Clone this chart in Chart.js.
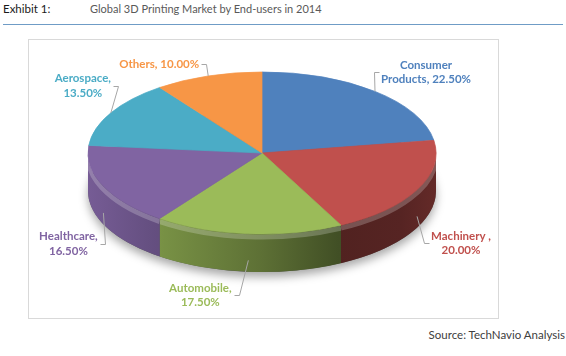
<!DOCTYPE html>
<html><head><meta charset="utf-8">
<script src="https://cdn.jsdelivr.net/npm/chart.js@4"></script>
<style>
html,body{margin:0;padding:0;background:#fff;}
#wrap{position:relative;width:566px;height:356px;overflow:hidden;font-family:Lato,"Liberation Sans",sans-serif;}
.t{position:absolute;white-space:nowrap;line-height:1;}
#ex{left:3px;top:3px;font-size:11.5px;color:#1a1a1a;}
#title{left:90px;top:3px;font-size:11px;color:#595959;}
#rule{position:absolute;left:3px;top:24px;width:560px;height:1px;background:#6f9cc6;}
#box{position:absolute;left:28px;top:39px;width:469px;height:278px;border:1px solid #d9d9d9;}
#src{right:1px;top:329px;font-size:11.5px;color:#404040;}
canvas{position:absolute;left:0;top:0;}
</style></head>
<body><div id="wrap">
<div class="t" id="ex">Exhibit 1:</div>
<div class="t" id="title">Global 3D Printing Market by End-users in 2014</div>
<div id="rule"></div>
<div id="box"></div>
<div class="t" id="src">Source: TechNavio Analysis</div>
<canvas id="c" width="566" height="356"></canvas>
</div>
<script>
const categories = ['Consumer Products', 'Machinery ', 'Automobile', 'Healthcare', 'Aerospace', 'Others'];
const shares = [22.5, 20.0, 17.5, 16.5, 13.5, 10.0];
const sliceColors = ['#4F81BD', '#C0504D', '#9BBB59', '#8064A2', '#4BACC6', '#F79646'];

// view / styling settings
const pieView = { cy: 153, ry: 81, depth: 38 };
const labelOffsets = [[51,-19],[44,27],[-48,35],[-35,31],[-28,-27],[-49,-12]];
const wallStops = [[0,0.92],[0.17,0.8],[0.5,0.6],[0.72,0.42],[0.9,0.45],[1,0.52]];

function shade(hex, f) {
  const n = parseInt(hex.slice(1), 16);
  const r = Math.round(((n >> 16) & 255) * f), g = Math.round(((n >> 8) & 255) * f), b = Math.round((n & 255) * f);
  return `rgb(${r},${g},${b})`;
}

function labelLines(cat, val) {
  const v = val.toFixed(2) + '%';
  const full = cat + ', ' + v;
  if (full.length <= 15) return [full];
  const words = cat.trim().split(' ');
  if (words.length > 1) return [words[0], words.slice(1).join(' ') + ', ' + v];
  return [cat + ',', v];
}

const pie3d = {
  id: 'pie3d',
  beforeDatasetsDraw(chart) {
    const ctx = chart.ctx;
    const meta = chart.getDatasetMeta(0);
    const first = meta.data[0];
    const R = first.outerRadius, X = first.x, Y = first.y;
    const { cy, ry, depth } = pieView;
    const k = ry / R;
    ctx.save();
    ctx.shadowColor = 'rgba(0,0,0,0.35)'; ctx.shadowBlur = 10; ctx.shadowOffsetY = 5;
    ctx.fillStyle = '#555';
    ctx.beginPath(); ctx.ellipse(X, cy + depth, R, ry, 0, 0, Math.PI * 2); ctx.fill();
    ctx.restore();
    meta.data.forEach((arc, i) => {
      const s = arc.startAngle, e = arc.endAngle;
      [[0, Math.PI], [2 * Math.PI, 3 * Math.PI], [-2 * Math.PI, -Math.PI]].forEach(([l, h]) => {
        const lo = Math.max(s, l), hi = Math.min(e, h);
        if (hi - lo < 1e-4) return;
        const g = ctx.createLinearGradient(X - R, 0, X + R, 0);
        wallStops.forEach(([p, f]) => g.addColorStop(p, shade(sliceColors[i], f)));
        ctx.save();
        ctx.beginPath();
        ctx.ellipse(X, cy, R, ry, 0, lo, hi, false);
        ctx.ellipse(X, cy + depth, R, ry, 0, hi, lo, true);
        ctx.closePath();
        ctx.fillStyle = g; ctx.fill();
        ctx.clip();
        ctx.beginPath(); ctx.ellipse(X, cy + 3, R, ry, 0, lo, hi, false);
        ctx.lineWidth = 5; ctx.strokeStyle = 'rgba(255,255,255,0.22)'; ctx.stroke();
        ctx.restore();
      });
    });
    ctx.save();
    ctx.translate(0, cy); ctx.scale(1, k); ctx.translate(0, -Y);
  },
  afterDatasetsDraw(chart) {
    const ctx = chart.ctx;
    ctx.restore();
    const meta = chart.getDatasetMeta(0);
    const { cy, ry, depth } = pieView;
    ctx.save();
    ctx.font = 'bold 11.5px Lato, "Liberation Sans", sans-serif';
    ctx.textAlign = 'center'; ctx.textBaseline = 'middle';
    meta.data.forEach((arc, i) => {
      const R = arc.outerRadius, X = arc.x;
      const mid = (arc.startAngle + arc.endAngle) / 2;
      const sn = Math.sin(mid), cs = Math.cos(mid);
      const ax = X + R * cs, ay = cy + ry * sn + (sn > 0 ? depth * 0.7 : 0);
      const lx = ax + labelOffsets[i][0], ly = ay + labelOffsets[i][1];
      const lines = labelLines(categories[i], shares[i]);
      const w = Math.max(...lines.map(t => ctx.measureText(t).width));
      const dir = ax > lx ? 1 : -1;
      const px = lx + dir * (w / 2 + 2);
      ctx.beginPath();
      ctx.moveTo(Math.round(px) + 0.5, Math.round(ly) + 0.5);
      ctx.lineTo(Math.round(px + dir * 5) + 0.5, Math.round(ly) + 0.5);
      ctx.lineTo(ax, ay);
      ctx.strokeStyle = '#a6a6a6'; ctx.lineWidth = 1; ctx.stroke();
      ctx.fillStyle = sliceColors[i];
      lines.forEach((t, j) => ctx.fillText(t, lx, ly + (j - (lines.length - 1) / 2) * 14.5));
    });
    ctx.restore();
  }
};

new Chart(document.getElementById('c'), {
  type: 'pie',
  data: {
    labels: categories,
    datasets: [{
      data: shares,
      backgroundColor: sliceColors,
      borderColor: sliceColors,
      borderWidth: 1,
      radius: 174
    }]
  },
  options: {
    responsive: false,
    animation: false,
    events: [],
    layout: { padding: { left: 0, right: 42, top: 0, bottom: 0 } },
    plugins: { legend: { display: false }, title: { display: false }, tooltip: { enabled: false } }
  },
  plugins: [pie3d]
});
</script>
</body></html>
